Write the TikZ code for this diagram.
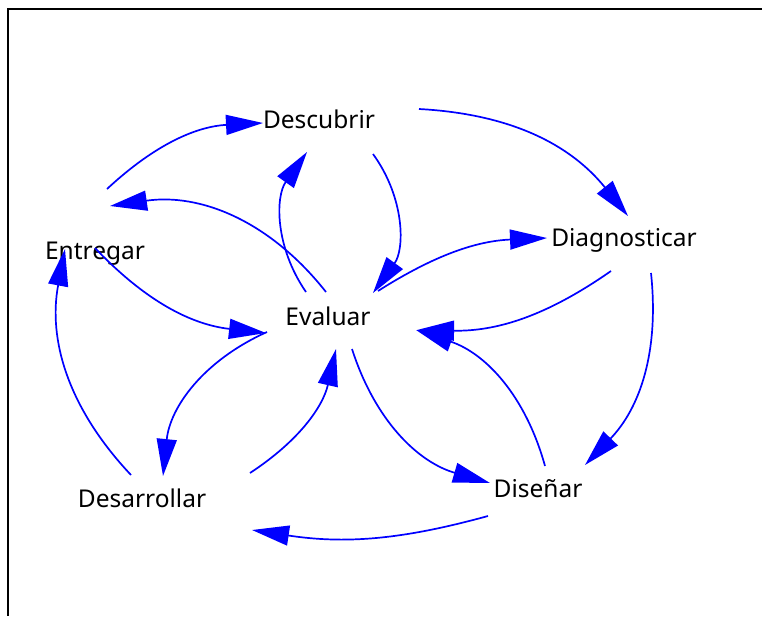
\documentclass[tikz,border=0pt]{standalone}
\usepackage{fontspec}
\setmainfont{Noto Sans}
\usetikzlibrary{arrows.meta}

\tikzset{
  lbl/.style={anchor=base, inner sep=0pt, font=\fontsize{24.5}{28}\selectfont},
  flow/.style={blue, line width=1.7pt, -{Triangle[length=37pt, width=20pt]}}
}

\begin{document}
\begin{tikzpicture}[x=1pt, y=1pt]
  \useasboundingbox (0,0) rectangle (762,-616);
  \draw[line width=2pt] (762,-9) -- (8,-9) -- (8,-616);

  % Stages
  \node[lbl] (desc) at (319,-128) {Descubrir};
  \node[lbl] (diag) at (624,-246) {Diagnosticar};
  \node[lbl] (entr) at (95,-259) {Entregar};
  \node[lbl] (eval) at (328,-325) {Evaluar};
  \node[lbl] (desa) at (142,-507) {Desarrollar};
  \node[lbl] (dise) at (538,-497) {Diseñar};

  % Outer cycle
  \draw[flow] ([shift={(12,70)}]entr.base) to[bend left=20] ([shift={(-56,5)}]desc.base);
  \draw[flow] ([shift={(100,19)}]desc.base) to[bend left=24] ([shift={(4,30)}]diag.base);
  \draw[flow] ([shift={(27,-27)}]diag.base) to[bend left=25] ([shift={(47,32)}]dise.base);
  \draw[flow] ([shift={(-50,-19)}]dise.base) to[bend left=12] ([shift={(110,-23)}]desa.base);
  \draw[flow] ([shift={(-11,32)}]desa.base) to[bend left=27] ([shift={(-30,10)}]entr.base);

  % To and from Evaluar
  \draw[flow] ([shift={(54,-26)}]desc.base) to[bend left=36] ([shift={(45,32)}]eval.base);
  \draw[flow] ([shift={(-22,33)}]eval.base) to[bend left=35] ([shift={(-12,-24)}]desc.base);
  \draw[flow] ([shift={(-2,33)}]eval.base) to[bend right=30] ([shift={(15,53)}]entr.base);
  \draw[flow] ([shift={(0,11)}]entr.base) to[bend right=20] ([shift={(-62,-8)}]eval.base);
  \draw[flow] ([shift={(-61,-7)}]eval.base) to[bend right=30] ([shift={(21,31)}]desa.base);
  \draw[flow] ([shift={(108,34)}]desa.base) to[bend right=22] ([shift={(8,-24)}]eval.base);
  \draw[flow] ([shift={(24,-24)}]eval.base) to[bend right=28] ([shift={(-48,14)}]dise.base);
  \draw[flow] ([shift={(7,31)}]dise.base) to[bend right=28] ([shift={(88,-5)}]eval.base);
  \draw[flow] ([shift={(-13,-25)}]diag.base) to[bend left=18] ([shift={(89,-5)}]eval.base);
  \draw[flow] ([shift={(50,34)}]eval.base) to[bend left=15] ([shift={(-77,8)}]diag.base);
\end{tikzpicture}
\end{document}
